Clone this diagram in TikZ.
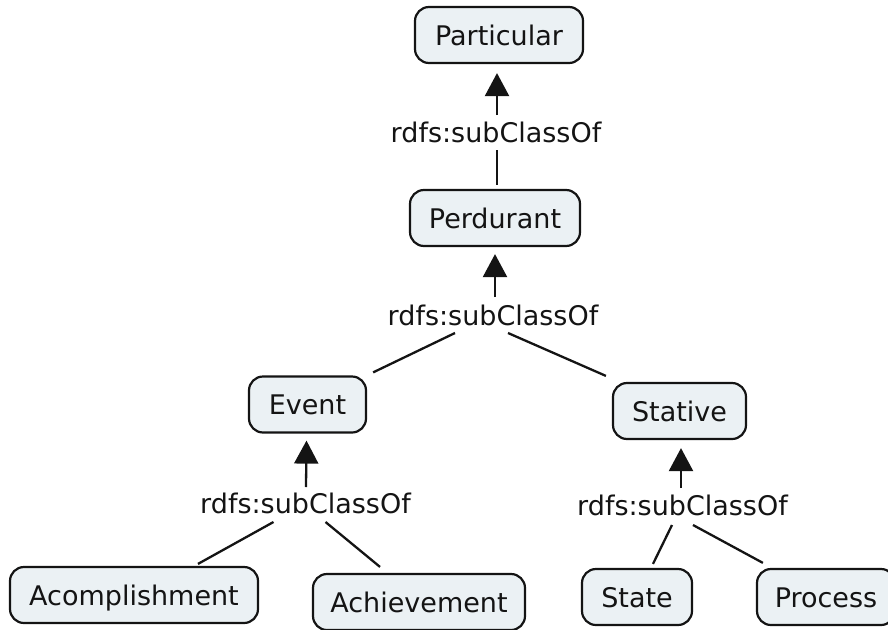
\documentclass[tikz,border=0pt]{standalone}
\usepackage{fontspec}
\setmainfont{DejaVu Sans}
\usetikzlibrary{arrows.meta,calc}

\definecolor{boxfill}{HTML}{EBF1F4}
\definecolor{ink}{HTML}{141414}

\tikzset{
  concept/.style={draw=ink, fill=boxfill, line width=2.2pt, rounded corners=14pt,
    minimum height=56pt, inner sep=0pt, text height=20pt, text depth=0pt,
    font=\fontsize{27}{32}\selectfont, text=ink, anchor=center},
  relation/.style={font=\fontsize{27}{32}\selectfont, text=ink, inner sep=0pt, anchor=base},
  link/.style={draw=ink, line width=2.3pt},
  isa/.style={link, -{Triangle[width=24pt,length=23pt]}}
}

\begin{document}
\begin{tikzpicture}[x=1pt,y=-1pt]
  \useasboundingbox (0,0) rectangle (888,629);
  \clip (0,0) rectangle (888,629);

  % classes
  \node[concept, minimum width=168pt] (particular) at (499,35)    {Particular};
  \node[concept, minimum width=170pt] (perdurant)  at (495,218)   {Perdurant};
  \node[concept, minimum width=117pt] (event)      at (307.5,404.5) {Event};
  \node[concept, minimum width=133pt] (stative)    at (679.5,411) {Stative};
  \node[concept, minimum width=248pt] (acomp)      at (134,595)   {Acomplishment};
  \node[concept, minimum width=212pt] (achiev)     at (419,602)   {Achievement};
  \node[concept, minimum width=110pt] (state)      at (637,597)   {State};
  \node[concept, minimum width=138pt] (process)    at (826,597)   {Process};

  % relation labels
  \node[relation] (r1) at (496,142) {rdfs:subClassOf};
  \node[relation] (r2) at (493,325) {rdfs:subClassOf};
  \node[relation] (r3) at (305.5,513) {rdfs:subClassOf};
  \node[relation] (r4) at (682.5,515) {rdfs:subClassOf};

  % Perdurant -> Particular
  \draw[isa]  ($(r1.base)+(1,-27)$) -- ($(particular.south)+(-2,9)$);
  \draw[link] ($(r1.base)+(1,8)$)   -- ($(perdurant.north)+(2,-4)$);

  % Event, Stative -> Perdurant
  \draw[isa]  ($(r2.base)+(2,-28)$) -- ($(perdurant.south)+(0,7)$);
  \draw[link] ($(r2.base)+(-38,8)$) -- ($(event.north east)+(6,-3)$);
  \draw[link] ($(r2.base)+(15,8)$)  -- ($(stative.north west)+(-6,-6)$);

  % Acomplishment, Achievement -> Event
  \draw[isa]  ($(r3.base)+(0.5,-26)$) -- ($(event.south)+(-1,7)$);
  \draw[link] ($(r3.base)+(-32,9)$)   -- ($(acomp.north)+(64,-2)$);
  \draw[link] ($(r3.base)+(20,9)$)    -- ($(achiev.north)+(-39,-6)$);

  % State, Process -> Stative
  \draw[isa]  ($(r4.base)+(-1.5,-27)$) -- ($(stative.south)+(1.5,8)$);
  \draw[link] ($(r4.base)+(-10.5,10)$) -- ($(state.north)+(16,-4)$);
  \draw[link] ($(r4.base)+(10.5,10)$)  -- ($(process.north west)+(7,-5)$);
\end{tikzpicture}
\end{document}
